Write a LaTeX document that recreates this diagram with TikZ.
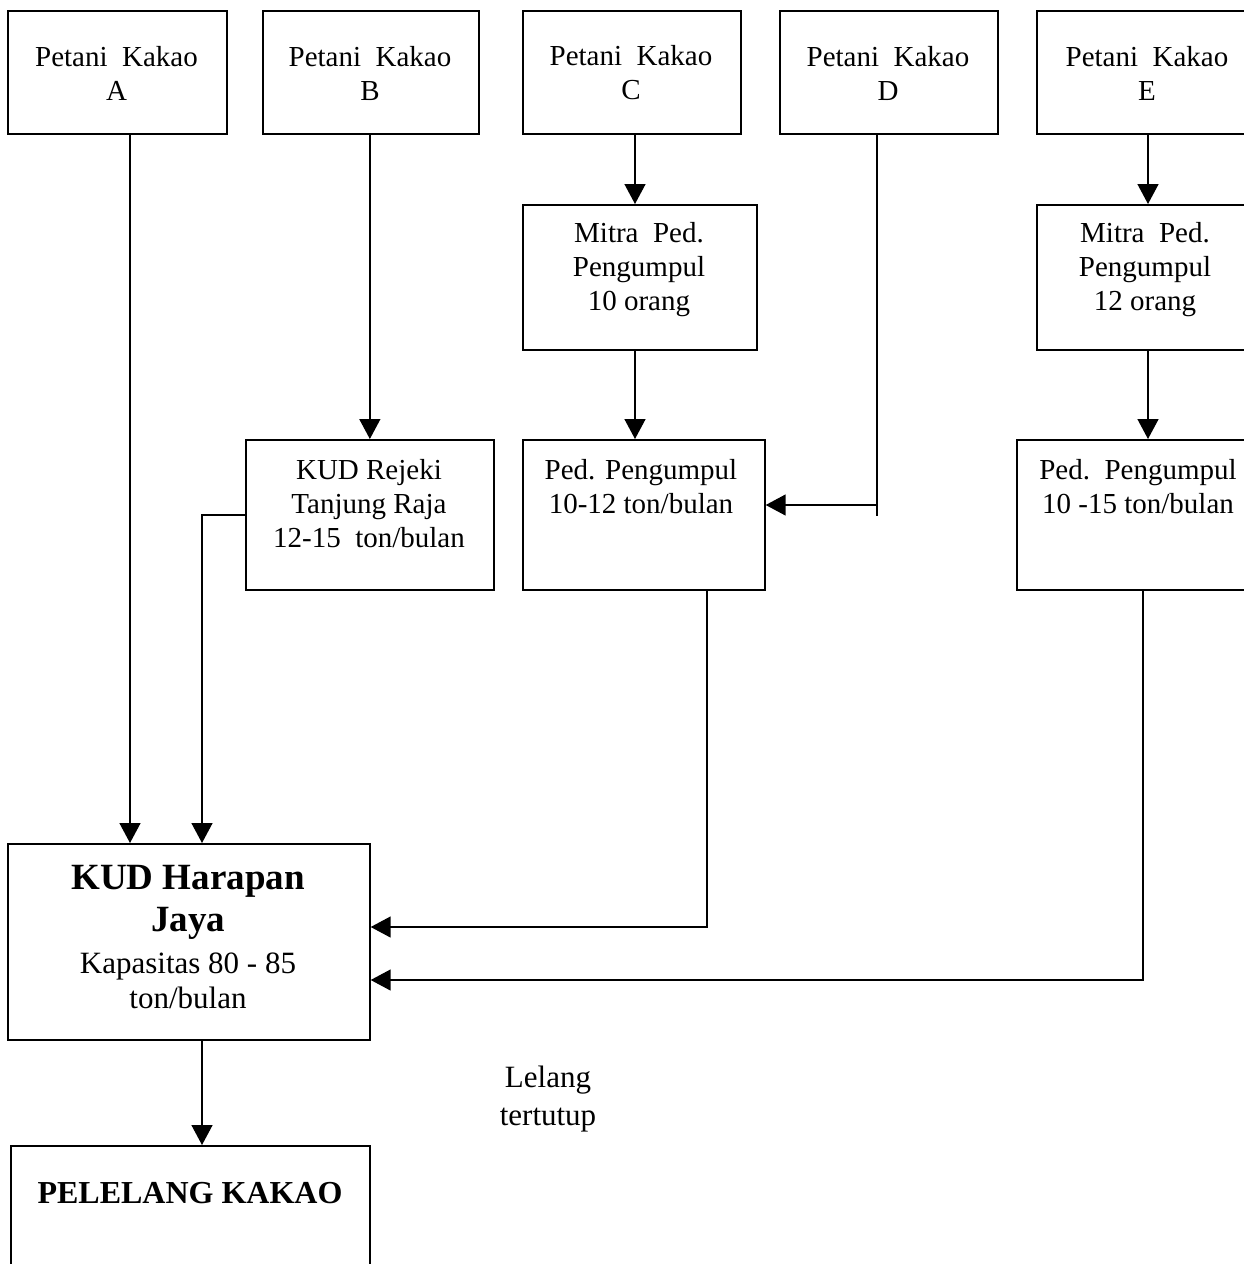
\documentclass[tikz,border=0pt]{standalone}
\usepackage{fontspec}
\setmainfont{Liberation Serif}
\usetikzlibrary{arrows.meta}
\begin{document}
\begin{tikzpicture}[x=1pt,y=-1pt,
 box/.style={draw, line width=1.7pt, inner sep=0pt, anchor=north west},
 lbl/.style={align=center, font=\fontsize{29}{34}\selectfont, inner sep=0pt},
 arr/.style={line width=1.5pt, -{Triangle[width=21pt,length=20pt]}},
 ln/.style={line width=1.5pt}]
\useasboundingbox (0,0) rectangle (1244,1264);
\fill[white] (0,0) rectangle (1244,1264);
\clip (0,0) rectangle (1244,1264);
% boxes
\node[box, minimum width=219pt, minimum height=123pt] (A) at (7,10) {};
\node[box, minimum width=216pt, minimum height=123pt] (B) at (262,10) {};
\node[box, minimum width=218pt, minimum height=123pt] (C) at (522,10) {};
\node[box, minimum width=218pt, minimum height=123pt] (D) at (779,10) {};
\node[box, minimum width=230pt, minimum height=123pt] (E) at (1036,10) {};
\node[box, minimum width=234pt, minimum height=145pt] (MC) at (522,204) {};
\node[box, minimum width=230pt, minimum height=145pt] (ME) at (1036,204) {};
\node[box, minimum width=248pt, minimum height=150pt] (KR) at (245,439) {};
\node[box, minimum width=242pt, minimum height=150pt] (PC) at (522,439) {};
\node[box, minimum width=250pt, minimum height=150pt] (PE) at (1016,439) {};
\node[box, minimum width=362pt, minimum height=196pt] (KH) at (7,843) {};
\node[box, minimum width=359pt, minimum height=150pt] (PL) at (10,1145) {};
% texts
\node[lbl] (tA) at (116.5,73) {Petani\ \ Kakao\\A};
\node[lbl] (tB) at (370,73) {Petani\ \ Kakao\\B};
\node[lbl] (tC) at (631,73) {Petani\ \ Kakao\\C};
\node[lbl] (tD) at (888,73) {Petani\ \ Kakao\\D};
\node[lbl] (tE) at (1147,73) {Petani\ \ Kakao\\E};
\node[lbl] (tMC) at (639,270) {Mitra\ \ Ped.\\Pengumpul\\10 orang};
\node[lbl] (tME) at (1145,270) {Mitra\ \ Ped.\\Pengumpul\\12 orang};
\node[lbl] (tKR) at (369,504) {KUD Rejeki\\Tanjung Raja\\12-15\ \ ton/bulan};
\node[lbl] (tPC) at (641,487) {Ped. Pengumpul\\10-12 ton/bulan};
\node[lbl] (tPE) at (1138,487) {Ped.\ \ Pengumpul\\10 -15 ton/bulan};
\node[lbl, font=\fontsize{37}{42}\selectfont\bfseries] (tKH1) at (188,902) {KUD Harapan\\Jaya};
\node[lbl, font=\fontsize{31}{35}\selectfont] (tKH2) at (188,981) {Kapasitas 80 - 85\\ton/bulan};
\node[lbl, font=\fontsize{32}{36}\selectfont\bfseries] (tPL) at (190,1193) {PELELANG KAKAO};
\node[lbl, font=\fontsize{31}{38}\selectfont] (tLL) at (548,1099) {Lelang\\tertutup};
% coordinates for connector positions
\coordinate (xa) at (130,0);
\coordinate (xb) at (202,0);
\coordinate (xc) at (635,0);
\coordinate (xd) at (877,0);
\coordinate (yd) at (0,505);
\coordinate (ydd) at (0,516);
\coordinate (xe) at (1148,0);
\coordinate (xpc) at (707,0);
\coordinate (ypc) at (0,927);
\coordinate (xpe) at (1143,0);
\coordinate (ype) at (0,980);
% connectors
\draw[arr] (A.south -| xa) -- (KH.north -| xa);
\draw[arr] (B.south -| KR.north) -- (KR.north);
\draw[arr] (KR.west) -| (KH.north -| xb);
\draw[arr] (C.south -| xc) -- (MC.north -| xc);
\draw[arr] (MC.south -| xc) -- (PC.north -| xc);
\draw[ln] (D.south -| xd) -- (xd |- ydd);
\draw[arr] (xd |- yd) -- (PC.east |- yd);
\draw[arr] (E.south -| xe) -- (ME.north -| xe);
\draw[arr] (ME.south -| xe) -- (PE.north -| xe);
\draw[arr] (PC.south -| xpc) |- (KH.east |- ypc);
\draw[arr] (PE.south -| xpe) |- (KH.east |- ype);
\draw[arr] (KH.south -| xb) -- (PL.north -| xb);
\end{tikzpicture}
\end{document}
